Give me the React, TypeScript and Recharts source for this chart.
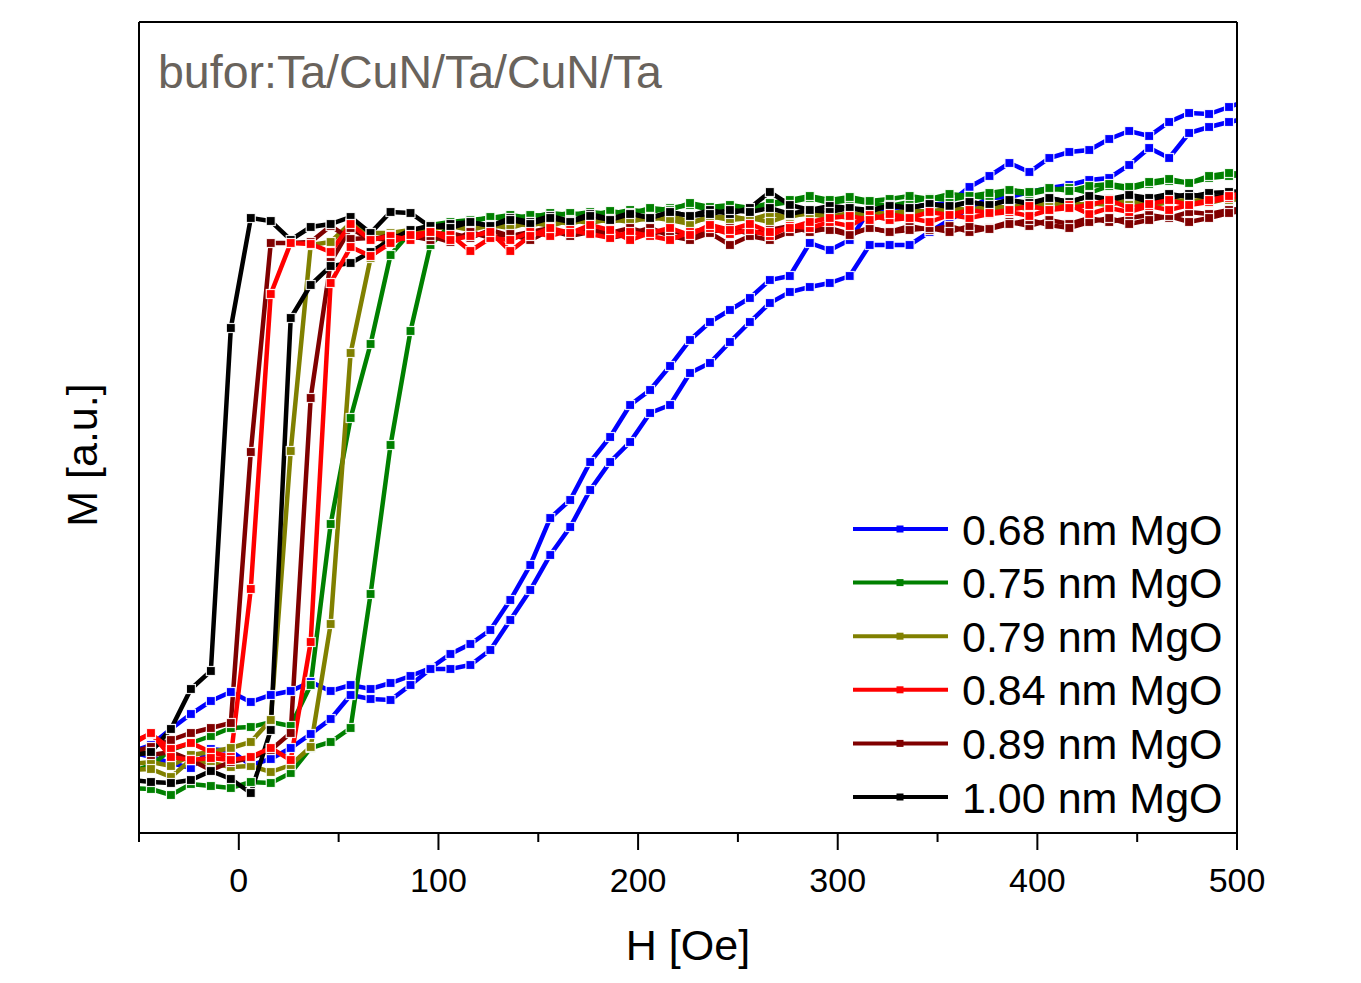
import React from 'react';
import { LineChart, Line, XAxis, YAxis, Label } from 'recharts';

// Field values (Oe) shared by every branch
const H = [-54, -44, -34, -24, -14, -4, 6, 16, 26, 36, 46, 56, 66, 76, 86, 96, 106, 116, 126, 136, 146, 156, 166, 176, 186, 196, 206, 216, 226, 236, 246, 256, 266, 276, 286, 296, 306, 316, 326, 336, 346, 356, 366, 376, 386, 396, 406, 416, 426, 436, 446, 456, 466, 476, 486, 496, 506];

const seriesNames = ['0.68 nm MgO', '0.75 nm MgO', '0.79 nm MgO', '0.84 nm MgO', '0.89 nm MgO', '1.00 nm MgO'];
const seriesColors = ['#0000ff', '#008000', '#808000', '#ff0000', '#800000', '#000000'];

// M [a.u.] – two branches per sample (A: switches at lower field, B: at higher field)
const blueA = [81, 88, 104, 119, 132, 141, 131, 138, 142, 151, 142, 148, 144, 150, 157, 165, 179, 189, 203, 233, 268, 315, 333, 371, 396, 428, 443, 467, 493, 511, 523, 535, 553, 557, 590, 583, 593, 623, 625, 626, 628, 630, 646, 657, 670, 661, 675, 681, 683, 694, 702, 697, 711, 720, 719, 726, 733];
const blueB = [81, 76, 70, 65, 84, 82, 68, 74, 85, 99, 114, 138, 134, 133, 148, 164, 164, 168, 183, 213, 243, 278, 306, 343, 371, 391, 420, 428, 460, 470, 491, 511, 530, 541, 546, 550, 557, 588, 588, 588, 601, 613, 625, 635, 636, 641, 645, 648, 653, 655, 668, 685, 675, 700, 706, 711, 715];
const greenA = [61, 68, 83, 90, 97, 105, 106, 111, 107, 148, 309, 415, 489, 578, 601, 608, 611, 613, 615, 618, 615, 620, 618, 621, 619, 623, 621, 625, 628, 623, 625, 621, 628, 631, 635, 630, 633, 630, 627, 631, 635, 633, 637, 635, 641, 639, 643, 645, 640, 647, 644, 649, 652, 650, 655, 657, 658];
const greenB = [45, 44, 38, 49, 47, 45, 51, 50, 60, 85, 91, 105, 239, 388, 502, 588, 608, 611, 616, 613, 618, 617, 620, 617, 622, 619, 625, 623, 630, 626, 628, 625, 630, 633, 637, 633, 636, 632, 634, 637, 634, 639, 637, 640, 643, 641, 645, 642, 647, 649, 646, 651, 654, 650, 657, 660, 659];
const oliveA = [69, 71, 67, 78, 81, 85, 91, 113, 382, 588, 591, 610, 600, 600, 603, 605, 607, 609, 605, 611, 607, 613, 609, 615, 611, 615, 613, 618, 611, 615, 617, 613, 619, 616, 621, 618, 615, 621, 619, 623, 621, 625, 623, 627, 625, 630, 628, 631, 627, 633, 630, 627, 631, 633, 630, 635, 635];
const oliveB = [63, 64, 56, 73, 70, 66, 67, 61, 68, 86, 209, 480, 575, 598, 601, 604, 607, 603, 608, 605, 611, 607, 613, 610, 614, 611, 616, 613, 609, 617, 613, 615, 611, 618, 619, 616, 620, 617, 621, 618, 623, 620, 624, 622, 627, 624, 629, 626, 630, 628, 633, 630, 634, 631, 635, 633, 634];
const redA = [91, 99, 84, 90, 81, 76, 244, 539, 590, 589, 581, 609, 593, 597, 593, 601, 598, 582, 595, 593, 601, 597, 603, 599, 595, 601, 597, 593, 601, 605, 599, 603, 597, 607, 605, 611, 607, 618, 613, 615, 611, 618, 615, 619, 621, 617, 623, 628, 619, 625, 621, 627, 623, 628, 631, 635, 638];
const redB = [88, 100, 76, 73, 75, 73, 76, 85, 73, 191, 550, 586, 577, 590, 598, 601, 593, 597, 601, 582, 597, 605, 600, 608, 603, 593, 600, 605, 598, 608, 603, 609, 601, 605, 611, 615, 617, 613, 619, 615, 621, 618, 623, 620, 623, 627, 623, 625, 628, 633, 625, 629, 633, 628, 633, 637, 641];
const darkRedA = [81, 86, 93, 100, 105, 110, 381, 590, 590, 591, 607, 594, 595, 593, 597, 593, 600, 595, 603, 597, 601, 605, 598, 603, 600, 605, 599, 603, 597, 601, 605, 599, 603, 607, 601, 605, 599, 605, 601, 607, 603, 607, 601, 605, 611, 607, 613, 609, 615, 611, 615, 618, 615, 621, 619, 623, 625];
const darkRedB = [83, 78, 81, 73, 63, 71, 75, 83, 100, 435, 571, 605, 593, 598, 595, 597, 591, 601, 595, 599, 593, 603, 597, 601, 595, 599, 605, 597, 593, 600, 588, 597, 593, 601, 605, 603, 598, 605, 601, 603, 605, 601, 607, 604, 609, 613, 608, 605, 611, 615, 609, 613, 617, 611, 615, 620, 623];
const blackA = [77, 81, 104, 144, 162, 505, 615, 612, 593, 606, 609, 616, 600, 621, 620, 606, 609, 611, 607, 615, 611, 617, 612, 619, 614, 620, 615, 621, 617, 623, 619, 625, 641, 628, 623, 627, 625, 621, 628, 625, 629, 626, 631, 628, 633, 629, 635, 631, 637, 633, 637, 631, 635, 639, 635, 638, 640];
const blackB = [53, 51, 50, 53, 62, 54, 40, 103, 515, 548, 567, 570, 581, 593, 603, 607, 605, 611, 607, 613, 609, 615, 611, 617, 613, 619, 615, 621, 617, 619, 623, 621, 625, 619, 623, 621, 625, 623, 627, 625, 629, 627, 631, 628, 633, 630, 635, 631, 637, 634, 638, 635, 639, 636, 640, 641, 642];

const xTicks = [-50, 0, 50, 100, 150, 200, 250, 300, 350, 400, 450, 500];
const titleText = 'bufor:Ta/CuN/Ta/CuN/Ta';
const xTitle = 'H [Oe]';
const yTitle = 'M [a.u.]';

const FONT = '"Liberation Sans", Arial, Helvetica, sans-serif';

const toData = (m: number[]) => H.map((h, i) => ({ H: h, M: m[i] }));

// drawing order: blue, green, olive, dark red, black, red
const branches: { color: number; values: number[] }[] = [
  { color: 0, values: blueA },
  { color: 0, values: blueB },
  { color: 1, values: greenA },
  { color: 1, values: greenB },
  { color: 2, values: oliveA },
  { color: 2, values: oliveB },
  { color: 4, values: darkRedA },
  { color: 4, values: darkRedB },
  { color: 5, values: blackA },
  { color: 5, values: blackB },
  { color: 3, values: redA },
  { color: 3, values: redB },
];

const makeDot = (color: string) => (props: any) => {
  const { cx, cy, index } = props;
  if (cx == null || cy == null || isNaN(cx) || isNaN(cy)) return <g key={index} />;
  return (
    <rect
      key={index}
      x={cx - 4.5}
      y={cy - 4.5}
      width={9}
      height={9}
      fill={color}
      stroke="#ffffff"
      strokeWidth={1.2}
      strokeOpacity={0.9}
    />
  );
};

const XTick = (props: any) => {
  const { x, y, payload } = props;
  const v = payload.value as number;
  const major = v % 100 === 0;
  return (
    <g>
      <line x1={x} x2={x} y1={y} y2={y + (major ? 17 : 9)} stroke="#000" strokeWidth={2} />
      {major && (
        <text x={x} y={y + 59} textAnchor="middle" fontSize={34} fontFamily={FONT} fill="#000">
          {v}
        </text>
      )}
    </g>
  );
};

export default function App() {
  const W = 1353;
  const Hh = 975;
  return (
    <div style={{ position: 'relative', width: W, height: Hh, background: '#fff' }}>
      <LineChart width={W} height={Hh} margin={{ top: 13, right: 123, bottom: 0, left: 130 }}>
        <XAxis
          dataKey="H"
          type="number"
          domain={[-50, 500]}
          allowDataOverflow
          ticks={xTicks}
          interval={0}
          tickSize={0}
          tickMargin={0}
          tickLine={false}
          axisLine={{ stroke: '#000', strokeWidth: 2 }}
          height={150}
          tick={<XTick />}
        >
          <Label
            content={(p: any) => {
              const vb = p.viewBox;
              return (
                <text x={vb.x + vb.width / 2} y={vb.y + 127} textAnchor="middle" fontSize={43} fontFamily={FONT} fill="#000">
                  {xTitle}
                </text>
              );
            }}
          />
        </XAxis>
        <XAxis
          xAxisId="top"
          orientation="top"
          type="number"
          domain={[-50, 500]}
          allowDataOverflow
          height={1}
          tick={false}
          tickLine={false}
          axisLine={{ stroke: '#000', strokeWidth: 2 }}
        />
        <YAxis
          type="number"
          domain={[0, 811]}
          allowDataOverflow
          width={1}
          tick={false}
          tickLine={false}
          axisLine={{ stroke: '#000', strokeWidth: 2 }}
        >
          <Label
            content={(p: any) => {
              const vb = p.viewBox;
              const tx = vb.x + vb.width - 42;
              const ty = vb.y + 433;
              return (
                <text x={tx} y={ty} transform={`rotate(-90, ${tx}, ${ty})`} textAnchor="middle" fontSize={43} fontFamily={FONT} fill="#000">
                  {yTitle}
                </text>
              );
            }}
          />
        </YAxis>
        <YAxis
          yAxisId="right"
          orientation="right"
          type="number"
          domain={[0, 811]}
          width={1}
          tick={false}
          tickLine={false}
          axisLine={{ stroke: '#000', strokeWidth: 2 }}
        />
        {branches.map((b, i) => (
          <Line
            key={i}
            data={toData(b.values)}
            dataKey="M"
            type="linear"
            stroke={seriesColors[b.color]}
            strokeWidth={4.5}
            dot={makeDot(seriesColors[b.color])}
            activeDot={false}
            legendType="none"
            isAnimationActive={false}
          />
        ))}
      </LineChart>
      <svg
        width={W}
        height={Hh}
        style={{ position: 'absolute', left: 0, top: 0, pointerEvents: 'none' }}
      >
        <text x={150} y={80} fontSize={46.5} fontFamily={FONT} fill="#69635c">
          {titleText}
        </text>
        {seriesNames.map((name, i) => {
          const cy = 521 + i * 53.6;
          return (
            <g key={name}>
              <line x1={845} x2={940} y1={cy} y2={cy} stroke={seriesColors[i]} strokeWidth={4} />
              <rect x={888.5} y={cy - 3.5} width={7} height={7} fill={seriesColors[i]} />
              <text x={954} y={cy + 15.5} fontSize={43} fontFamily={FONT} fill="#000">
                {name}
              </text>
            </g>
          );
        })}
      </svg>
    </div>
  );
}
